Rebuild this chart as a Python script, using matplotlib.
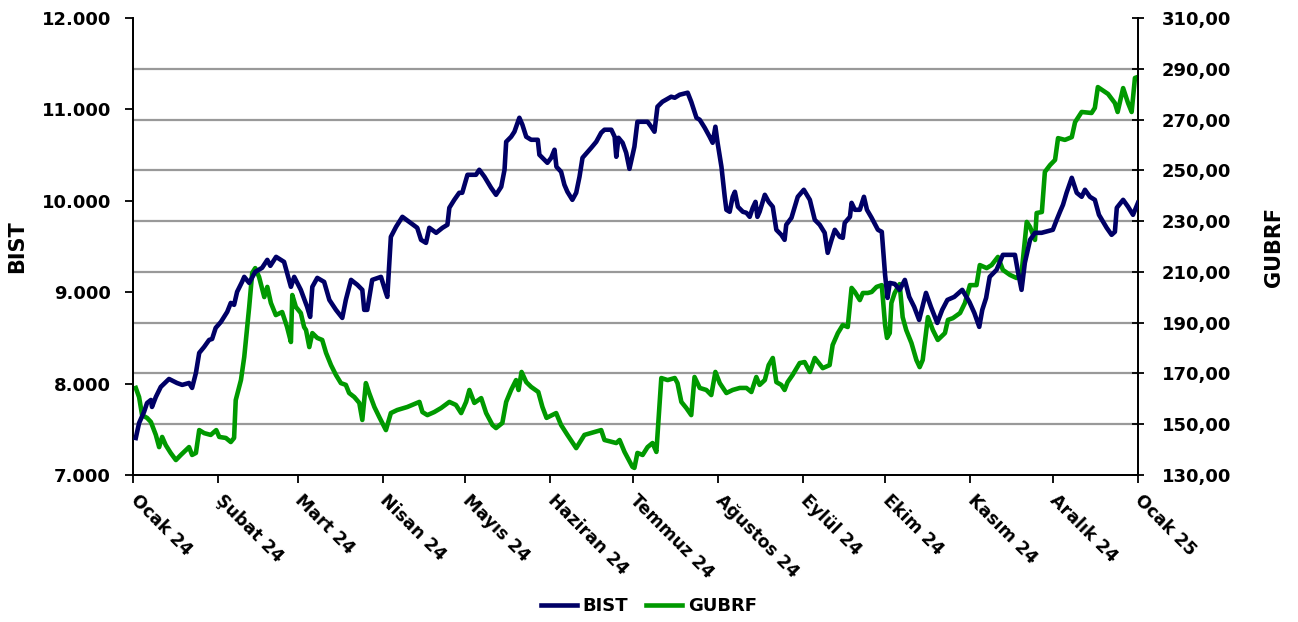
import matplotlib
matplotlib.use("Agg")
import matplotlib.pyplot as plt
import matplotlib.ticker as mticker
import pandas as pd

START = "2024-01-01"

# BIST: days since 2024-01-01 and index level
bist_days = [1.0, 2.2, 4.0, 5.1, 6.5, 6.9, 8.3, 10.1, 13.1, 16.0, 17.9, 20.4, 21.5, 22.9, 24.1,
             25.9, 27.7, 28.8, 30.1, 32.0, 34.3, 35.6, 36.8, 37.9, 39.7, 40.5, 42.3, 44.5, 47.0,
             48.9, 50.0, 52.1, 55.0, 56.1, 57.5, 58.7, 61.1, 63.4, 64.5, 65.3, 67.1, 69.6, 71.5,
             73.9, 76.2, 77.5, 79.4, 81.7, 83.5, 84.2, 85.3, 87.1, 90.3, 92.1, 92.6, 93.9, 95.8,
             98.1, 100.6, 103.5, 104.9, 106.7, 107.9, 110.4, 112.7, 114.5, 115.2, 117.0, 118.8,
             119.9, 121.8, 124.9, 126.1, 128.0, 130.4, 132.2, 134.1, 135.3, 135.9, 137.7, 138.9,
             140.7, 141.8, 143.2, 145.0, 147.4, 148.0, 149.8, 150.9, 152.3, 153.5, 154.2, 155.9,
             157.1, 158.2, 160.0, 161.4, 162.6, 163.7, 166.9, 168.7, 170.5, 171.7, 174.2, 175.4,
             176.0, 176.8, 178.3, 179.6, 180.8, 182.6, 183.7, 185.6, 187.4, 188.7, 189.9, 191.0,
             192.8, 196.0, 197.3, 199.1, 202.0, 203.3, 205.2, 206.4, 208.2, 210.0, 211.1, 212.1,
             212.9, 214.3, 215.5, 216.1, 217.3, 218.4, 219.2, 220.3, 222.1, 223.4, 224.6, 225.7,
             226.7, 227.4, 228.2, 230.1, 231.5, 233.0, 234.3, 236.1, 237.3, 237.9, 239.8, 242.1,
             244.3, 246.5, 248.3, 250.1, 251.9, 253.0, 254.4, 255.6, 257.4, 258.5, 259.2, 261.1,
             261.7, 262.9, 264.7, 266.2, 267.3, 269.0, 271.3, 272.7, 273.9, 274.8, 275.6, 277.4,
             279.2, 281.1, 282.7, 284.5, 286.3, 288.8, 290.6, 292.9, 294.7, 296.6, 299.1, 302.0,
             304.6, 306.4, 308.2, 309.3, 310.7, 312.0, 314.5, 316.8, 319.3, 321.2, 322.3, 323.6,
             324.8, 326.7, 328.5, 330.9, 335.0, 336.4, 337.6, 338.7, 340.0, 341.9, 343.7, 345.5,
             346.7, 348.5, 350.3, 351.8, 354.6, 356.4, 357.6, 358.3, 360.6, 362.4, 364.2, 366.0]
bist_values = [7405, 7569, 7690, 7788, 7821, 7745, 7854, 7964, 8051, 8007, 7986, 8007, 7953, 8117, 8336,
               8402, 8478, 8489, 8610, 8675, 8785, 8883, 8862, 9004, 9113, 9168, 9102, 9223, 9267,
               9354, 9289, 9387, 9332, 9212, 9059, 9168, 9026, 8840, 8730, 9059, 9157, 9113, 8916,
               8807, 8719, 8916, 9135, 9081, 9026, 8807, 8807, 9135, 9168, 8993, 8949, 9606, 9716,
               9825, 9770, 9705, 9573, 9540, 9705, 9650, 9705, 9738, 9924, 10011, 10088,
               10088, 10285, 10285, 10340, 10263, 10143, 10066, 10154, 10340, 10646, 10701, 10756,
               10909, 10833, 10701, 10668, 10668, 10504, 10449, 10416, 10471, 10559, 10373, 10318,
               10176, 10099, 10011, 10088, 10263, 10471, 10581, 10646, 10745, 10778, 10778, 10701,
               10482, 10690, 10635, 10526, 10350, 10592, 10865, 10865, 10865, 10811, 10756, 11030,
               11084, 11139, 11128, 11161, 11183, 11084, 10909, 10887, 10800, 10701, 10635, 10811,
               10635, 10373, 10044, 9902, 9880, 10044, 10099, 9935, 9880, 9869, 9825, 9924,
               9989, 9825, 9880, 10066, 9989, 9935, 9683, 9628, 9573, 9738, 9814, 10044,
               10121, 10011, 9792, 9738, 9650, 9431, 9573, 9683, 9606, 9595, 9759, 9825,
               9978, 9902, 9902, 10044, 9902, 9814, 9683, 9661, 9190, 8938, 9102, 9091,
               9026, 9135, 8949, 8840, 8697, 8993, 8840, 8664, 8807, 8916, 8949, 9026,
               8894, 8774, 8621, 8807, 8938, 9168, 9245, 9409, 9409, 9409, 9223, 9026,
               9321, 9573, 9650, 9650, 9683, 9792, 9880, 9957, 10088, 10252, 10088, 10044,
               10121, 10044, 10011, 9847, 9705, 9628, 9661, 9924, 10011, 9935, 9847, 9978]

# GUBRF: days since 2024-01-01 and share price
gubrf_days = [1.0, 2.2, 3.3, 5.1, 6.5, 8.3, 9.5, 10.6, 11.9, 13.7, 15.6, 17.4, 20.4, 21.5, 22.9,
              24.1, 25.9, 28.3, 30.3, 31.4, 33.8, 35.6, 36.8, 37.4, 39.3, 40.5, 42.3, 43.4, 44.5,
              45.9, 47.8, 48.9, 50.2, 52.0, 54.3, 56.1, 57.5, 58.0, 59.3, 61.1, 62.3, 63.0, 64.2,
              65.3, 67.1, 68.9, 70.3, 72.1, 73.9, 75.7, 77.5, 78.7, 80.6, 82.4, 83.5, 84.8, 86.0,
              87.9, 89.7, 92.1, 93.9, 96.2, 99.9, 104.3, 105.4, 107.2, 109.7, 112.2, 115.2, 117.6,
              119.5, 121.3, 122.5, 124.3, 126.8, 128.6, 130.9, 132.2, 134.5, 135.9, 137.7, 139.5,
              140.4, 141.5, 143.2, 145.0, 147.6, 149.1, 150.6, 154.1, 155.9, 158.2, 161.4, 164.4,
              170.5, 171.7, 176.0, 177.2, 179.0, 181.9, 182.6, 183.7, 185.6, 187.4, 189.2, 190.6,
              192.4, 194.7, 197.3, 198.3, 199.7, 201.5, 203.3, 204.5, 206.4, 208.8, 210.6, 212.1,
              213.7, 216.1, 218.4, 221.0, 223.4, 225.2, 227.0, 228.2, 230.1, 231.5, 233.0, 234.3,
              236.1, 237.3, 238.4, 240.2, 242.8, 244.6, 246.5, 248.3, 251.2, 253.7, 254.8, 256.7,
              258.5, 260.3, 261.7, 262.9, 264.7, 265.8, 267.6, 269.0, 270.8, 272.7, 273.9, 274.6,
              275.6, 276.2, 277.4, 279.2, 280.3, 281.6, 283.5, 285.3, 286.5, 287.6, 289.5, 291.3,
              293.1, 295.7, 296.8, 298.6, 301.2, 303.0, 304.8, 307.2, 308.4, 310.9, 312.7, 315.0,
              316.8, 319.4, 321.8, 323.6, 325.5, 326.7, 328.5, 329.1, 331.0, 332.1, 334.0, 335.8,
              336.9, 339.4, 341.9, 343.1, 345.5, 349.1, 350.3, 351.4, 355.1, 357.6, 358.6, 360.6,
              362.4, 363.7, 364.9, 366.0]
gubrf_values = [164.3, 160.7, 153.6, 152.5, 150.9, 145.8, 141.0, 145.0, 141.8, 138.7, 135.9, 137.9, 141.0, 137.9, 138.7,
                147.7, 146.5, 145.8, 147.7, 145.0, 144.6, 143.0, 144.6, 159.5, 167.4, 176.5, 196.2, 209.6, 211.5,
                208.0, 200.1, 204.1, 197.8, 193.0, 194.2, 188.3, 182.4, 200.9, 196.2, 193.8, 188.3, 187.1, 180.4,
                185.9, 184.0, 183.2, 178.1, 173.3, 169.4, 166.2, 165.5, 162.3, 160.7, 158.4, 151.7, 166.2, 162.3,
                156.8, 152.8, 147.7, 154.4, 155.6, 156.8, 158.8, 154.8, 153.6, 154.8, 156.4, 158.8, 157.6,
                154.4, 158.8, 163.5, 158.4, 160.3, 154.4, 149.7, 148.5, 150.5, 158.8, 163.5, 167.4,
                163.5, 170.6, 166.6, 164.7, 162.7, 156.8, 152.5, 154.4, 149.7, 145.8, 140.6, 145.8,
                147.7, 143.8, 142.6, 143.8, 139.1, 133.2, 132.8, 138.7, 137.9, 141.0, 142.6, 139.1,
                168.2, 167.4, 168.2, 166.2, 158.8, 156.4, 153.6, 168.6, 164.3, 163.5, 161.5, 170.6,
                166.2, 162.3, 163.5, 164.3, 164.3, 162.7, 168.6, 165.5, 167.4, 173.3, 176.1, 166.6,
                165.5, 163.5, 166.6, 169.4, 174.1, 174.5, 170.6, 176.1, 172.1, 173.3, 181.2, 185.9,
                189.1, 188.3, 203.7, 202.1, 198.9, 201.7, 201.7, 202.1, 204.1, 204.8, 189.1, 184.0,
                185.9, 197.8, 201.7, 205.2, 192.2, 187.1, 182.0, 175.3, 172.5, 175.3, 192.2, 187.1,
                183.2, 185.9, 191.1, 191.8, 193.8, 197.8, 204.8, 204.8, 212.7, 211.5, 212.7, 215.9,
                210.8, 208.8, 207.6, 209.6, 229.7, 227.7, 222.6, 233.2, 233.6, 249.4, 252.1, 254.1,
                262.7, 262.0, 263.1, 269.0, 273.0, 272.6, 274.6, 282.8, 280.1, 276.5, 273.0, 282.4,
                276.5, 273.0, 286.4, 286.8]

month_labels = ["Ocak 24", "Şubat 24", "Mart 24", "Nisan 24", "Mayıs 24", "Haziran 24",
                "Temmuz 24", "Ağustos 24", "Eylül 24", "Ekim 24", "Kasım 24", "Aralık 24", "Ocak 25"]

bist_ticks = [7000, 8000, 9000, 10000, 11000, 12000]
gubrf_ticks = [130, 150, 170, 190, 210, 230, 250, 270, 290, 310]

BIST_COLOR = "#000066"
GUBRF_COLOR = "#009900"

plt.rcParams['font.family'] = ['DejaVu Sans']

start = pd.Timestamp(START)
bist_x = start + pd.to_timedelta(bist_days, unit="D")
gubrf_x = start + pd.to_timedelta(gubrf_days, unit="D")
month_ticks = pd.date_range("2024-01-01", periods=len(month_labels), freq="MS")

fig = plt.figure(figsize=(12.98, 6.22), dpi=100)
ax = fig.add_axes([0.1025, 0.2363, 0.7742, 0.7347])
ax2 = ax.twinx()

# gridlines from right axis
for t in gubrf_ticks[1:-1]:
    ax2.axhline(t, color="#999999", lw=1.6, zorder=0)

ax.plot(bist_x, bist_values, color=BIST_COLOR, lw=3.3, label="BIST", zorder=3,
        solid_joinstyle="round")
ax2.plot(gubrf_x, gubrf_values, color=GUBRF_COLOR, lw=3.3, label="GUBRF", zorder=3,
         solid_joinstyle="round")

ax.set_xlim(month_ticks[0], month_ticks[-1])
ax.set_ylim(7000, 12000)
ax2.set_ylim(130, 310)

ax.set_yticks(bist_ticks)
ax.yaxis.set_major_formatter(mticker.FuncFormatter(lambda v, p: f"{int(v):,}".replace(",", ".")))
ax2.set_yticks(gubrf_ticks)
ax2.yaxis.set_major_formatter(mticker.FuncFormatter(lambda v, p: f"{v:.2f}".replace(".", ",")))

ax.set_xticks(month_ticks)
ax.set_xticklabels(month_labels, rotation=-45, ha="left", va="center", rotation_mode="anchor",
                   fontsize=12.5, fontweight="bold")

for a in (ax, ax2):
    a.spines["top"].set_visible(False)
    for s in a.spines.values():
        s.set_linewidth(1.3)
        s.set_color("black")

ax.tick_params(axis="y", direction="out", length=6, width=1.3, labelsize=13, pad=10)
ax.tick_params(axis="x", direction="out", length=6, width=1.3, pad=10)
ax2.tick_params(axis="y", direction="inout", length=8, width=1.3, labelsize=13, pad=13)
for lbl in ax.get_yticklabels() + ax2.get_yticklabels():
    lbl.set_fontweight("bold")

ax.set_ylabel("BIST", fontsize=15, fontweight="bold", labelpad=10)
ax2.set_ylabel("GUBRF", fontsize=15, fontweight="bold", labelpad=24)

h1, l1 = ax.get_legend_handles_labels()
h2, l2 = ax2.get_legend_handles_labels()
fig.legend(h1 + h2, l1 + l2, loc="center", bbox_to_anchor=(0.5, 0.025), ncol=2,
           frameon=False, handlelength=2.0, handletextpad=0.3, columnspacing=1.0,
           prop={"weight": "bold", "size": 13})

ax.set_zorder(ax2.get_zorder() + 1)
ax.patch.set_visible(False)

fig.savefig("out.png", dpi=100)
